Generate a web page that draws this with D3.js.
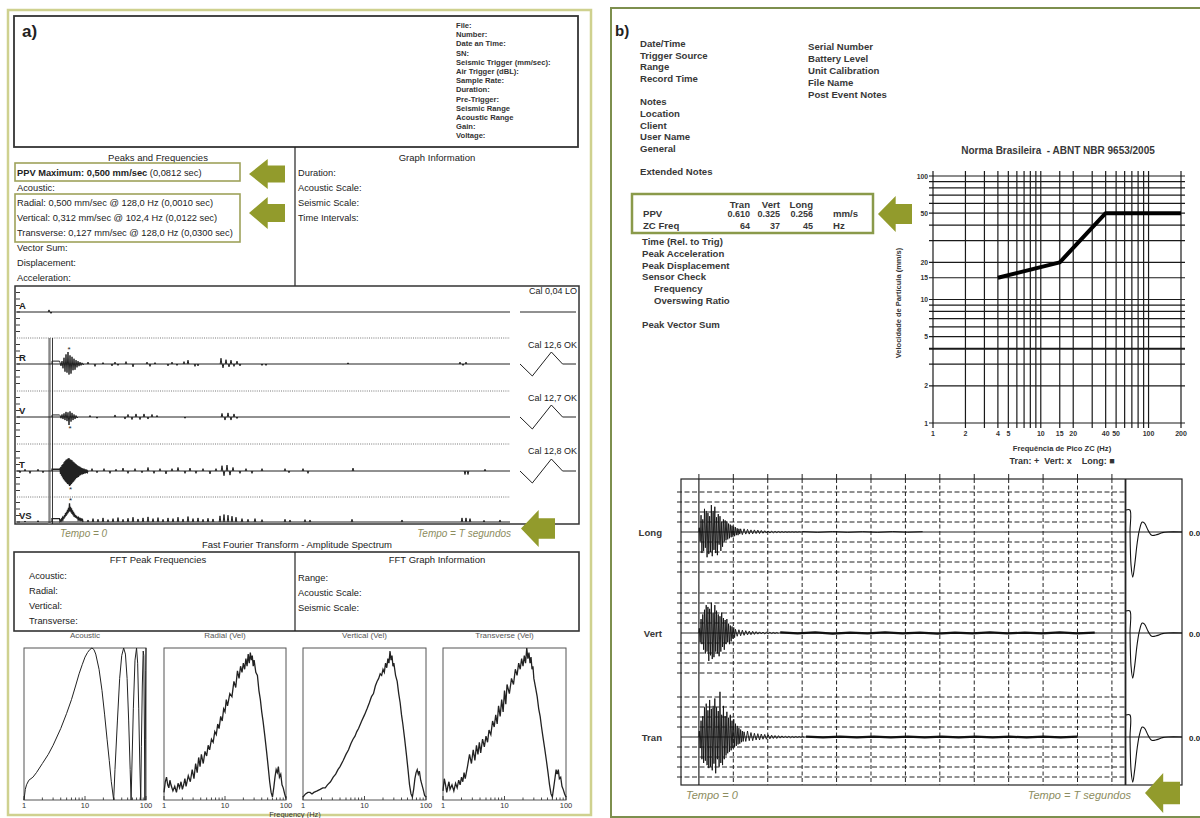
<!DOCTYPE html>
<html><head><meta charset="utf-8">
<script src="https://cdn.jsdelivr.net/npm/d3@7"></script>
<style>
body{margin:0;background:#fff;}
svg{display:block;font-family:"Liberation Sans",Arial,sans-serif;}
text{white-space:pre;}
</style></head><body>
<svg id="c" width="1200" height="818"></svg>
<script>
// ================= report (a): event report =================
const headerFields = ["File:","Number:","Date an Time:","SN:","Seismic Trigger (mm/sec):","Air Trigger (dBL):","Sample Rate:","Duration:","Pre-Trigger:","Seismic Range","Acoustic Range","Gain:","Voltage:"];
const ppvMax = 0.500, ppvMaxTime = 0.0812;
const peakChannels = ["Radial","Vertical","Transverse"];
const peakVel = [0.500, 0.312, 0.127];
const peakFreq = [128.0, 102.4, 128.0];
const peakTime = [0.0010, 0.0122, 0.0300];
const graphInfoLabels = ["Duration:","Acoustic Scale:","Seismic Scale:","Time Intervals:"];
const lowerPeakLabels = ["Vector Sum:","Displacement:","Acceleration:"];
const channelsA = ["A","R","V","T","VS"];
const calLabels = ["Cal 0,04 LO","Cal 12,6 OK","Cal 12,7 OK","Cal 12,8 OK"];

// hold level right after trigger (mm/sec) for R, V, T, VS
const stepHold = [0.12, 0.08, 0.015, 0.10];
// burst samples (mm/sec), starting at t = 0.10 s
const rBurst = [0.06,-0.08,0.12,-0.18,0.26,-0.32,0.40,-0.36,0.50,-0.44,0.36,-0.40,0.30,-0.26,0.22,-0.24,0.16,-0.14,0.12,-0.09,0.08,-0.06,0.05,-0.03];
const vBurst = [0.06,-0.05,0.10,-0.08,0.14,-0.12,0.20,-0.16,0.18,-0.312,0.22,-0.18,0.16,-0.12,0.10,-0.08,0.06,-0.04];
const tBurst = [0.02,-0.025,0.035,-0.04,0.05,-0.055,0.06,-0.07,0.075,-0.08,0.085,-0.09,0.095,-0.10,0.10,-0.11,0.105,-0.115,0.11,-0.127,0.10,-0.12,0.095,-0.11,0.09,-0.10,0.08,-0.09,0.075,-0.08,0.065,-0.07,0.06,-0.06,0.05,-0.055,0.045,-0.05,0.04,-0.04,0.035,-0.035,0.03,-0.03,0.025,-0.03,0.02,-0.025,0.02,-0.02,0.015,-0.02,0.015,-0.015,0.01,-0.01];
const vsBurst = [0.02,0.05,0.03,0.08,0.05,0.12,0.08,0.16,0.10,0.20,0.14,0.26,0.18,0.30,0.22,0.36,0.26,0.42,0.30,0.55,0.32,0.45,0.28,0.40,0.24,0.34,0.20,0.30,0.16,0.25,0.14,0.20,0.12,0.18,0.10,0.15,0.08,0.12,0.07,0.10,0.06,0.09,0.05,0.08,0.05,0.07];
// isolated excursions [time s, mm/sec]
const aSpikes = [[-0.01,0.003],[0.01,-0.002]];
const rSpikes = [[0.38,0.08],[0.45,-0.10],[0.53,0.06],[0.62,-0.08],[0.65,0.08],[0.68,-0.06],[0.76,0.10],[0.83,-0.12],[0.97,0.08],[1.00,-0.10],[1.05,0.06],[1.18,-0.08],[1.22,0.08],[1.27,-0.06],[1.34,0.10],[1.38,0.16],[1.45,-0.10],[1.48,-0.08],[1.71,0.24],[1.73,-0.16],[1.76,0.18],[1.79,-0.12],[1.81,0.16],[1.84,-0.10],[1.87,0.12],[1.90,-0.08],[2.12,-0.06],[2.16,-0.06],[2.98,0.05],[4.10,0.08],[4.13,-0.06],[4.16,0.08]];
const vSpikes = [[0.40,0.06],[0.47,-0.05],[0.65,0.08],[0.75,-0.08],[0.78,0.10],[0.82,-0.10],[0.86,0.12],[0.90,-0.10],[0.94,0.12],[0.98,-0.08],[1.02,0.10],[1.07,0.06],[1.35,-0.05],[1.72,0.14],[1.75,-0.12],[1.78,0.16],[1.81,-0.12],[1.84,0.12],[1.87,-0.06]];
const tSpikes = [[-0.30,-0.015],[-0.25,0.015],[-0.20,-0.02],[-0.12,0.015],[-0.07,-0.015],[0.42,0.02],[0.47,-0.015],[0.54,0.02],[0.60,-0.02],[0.66,0.015],[0.73,0.025],[0.78,-0.02],[0.85,0.02],[0.92,-0.015],[0.98,0.03],[1.04,-0.02],[1.10,0.02],[1.16,-0.025],[1.22,0.02],[1.28,0.03],[1.35,-0.02],[1.40,0.025],[1.46,-0.02],[1.53,0.02],[1.60,-0.025],[1.66,0.02],[1.72,0.045],[1.74,-0.04],[1.77,0.05],[1.80,-0.035],[1.83,0.03],[1.90,-0.02],[1.96,0.02],[2.02,-0.02],[2.12,0.02],[2.35,0.02],[2.39,-0.015],[2.53,0.02],[2.58,-0.02],[3.03,0.025],[4.15,-0.03],[4.18,-0.03],[4.35,0.015]];
const vsSpikes = [[-0.25,0.03],[-0.12,0.04],[0.38,0.06],[0.43,0.10],[0.48,0.08],[0.53,0.12],[0.58,0.07],[0.63,0.10],[0.68,0.13],[0.73,0.08],[0.78,0.11],[0.83,0.14],[0.88,0.09],[0.93,0.12],[0.98,0.15],[1.03,0.10],[1.08,0.13],[1.13,0.08],[1.18,0.12],[1.23,0.10],[1.28,0.14],[1.33,0.09],[1.38,0.16],[1.43,0.10],[1.48,0.12],[1.53,0.08],[1.58,0.11],[1.63,0.09],[1.70,0.18],[1.74,0.22],[1.78,0.20],[1.82,0.17],[1.86,0.14],[1.92,0.10],[1.98,0.08],[2.05,0.10],[2.12,0.07],[2.35,0.08],[2.40,0.06],[2.55,0.07],[2.60,0.06],[3.02,0.08],[3.52,0.06],[4.12,0.12],[4.16,0.12],[4.20,0.10],[4.34,0.05],[4.50,0.06]];
// calibration pulse shape (normalised)
const calShape = [[0,0],[0.22,-1],[0.56,1],[0.76,0],[1,0]];

// FFT amplitude spectra [Hz, relative amplitude]
const fftTicks = [1, 10, 100];
const fftTitles = ["Acoustic","Radial (Vel)","Vertical (Vel)","Transverse (Vel)"];
const acousticFFT = [[1,0],[1.05,0.07],[1.1,0.1],[1.2,0.13],[1.4,0.15],[1.6,0.18],[2,0.24],[2.5,0.3],[3,0.36],[4,0.47],[5,0.57],[6,0.66],[7,0.75],[8,0.83],[9,0.89],[10,0.94],[11,0.97],[12,0.99],[13,1.0],[14,0.99],[15,0.96],[17,0.86],[19,0.72],[21,0.56],[23,0.4],[25,0.26],[27,0.12],[29.5,0],[31,0.2],[34,0.52],[37,0.8],[40,0.95],[43,1.0],[46,0.96],[49,0.8],[52,0.52],[55,0.2],[57,0],[59,0.25],[62,0.6],[66,0.92],[70,1.0],[73,0.9],[76,0.6],[79,0.25],[82,0],[84,0.35],[87,0.75],[90,0.98],[92,0.95],[94,0.5],[96,0],[97.5,0.4],[99,0.85],[100,1.0]];
const radialFFT = [[1,0.05],[1.05,0.12],[1.1,0.15],[1.15,0.1],[1.2,0.08],[1.25,0.13],[1.3,0.1],[1.4,0.06],[1.5,0.09],[1.6,0.05],[1.7,0.11],[1.8,0.08],[1.9,0.12],[2,0.07],[2.1,0.1],[2.2,0.14],[2.3,0.09],[2.5,0.16],[2.7,0.12],[2.9,0.2],[3.1,0.14],[3.3,0.24],[3.5,0.18],[3.7,0.28],[3.9,0.22],[4.1,0.3],[4.4,0.24],[4.7,0.32],[5,0.29],[5.3,0.36],[5.6,0.33],[6,0.4],[6.4,0.38],[6.8,0.45],[7.2,0.43],[7.6,0.5],[8,0.47],[8.5,0.55],[9,0.52],[9.5,0.6],[10,0.58],[10.5,0.66],[11,0.62],[12,0.7],[13,0.68],[14,0.78],[15,0.74],[16,0.85],[17,0.8],[18,0.88],[19,0.84],[20,0.9],[21,0.86],[22,0.93],[23,0.88],[24,0.96],[25,0.9],[26,0.97],[27,0.92],[28,0.95],[29,0.88],[30,0.92],[32,0.84],[34,0.82],[36,0.72],[38,0.66],[40,0.58],[42,0.52],[45,0.42],[48,0.32],[51,0.22],[54,0.12],[57,0.05],[60,0.02],[63,0.08],[66,0.15],[69,0.2],[72,0.18],[75,0.22],[78,0.15],[82,0.17],[86,0.1],[90,0.08],[95,0.04],[100,0.01]];
const verticalFFT = [[1,0.02],[1.1,0.04],[1.2,0.05],[1.3,0.05],[1.4,0.04],[1.5,0.05],[1.7,0.06],[1.9,0.07],[2.1,0.08],[2.3,0.08],[2.5,0.1],[2.8,0.12],[3.1,0.15],[3.4,0.17],[3.7,0.2],[4,0.22],[4.5,0.26],[5,0.3],[5.5,0.33],[6,0.37],[6.5,0.4],[7,0.42],[7.5,0.45],[8,0.47],[9,0.52],[10,0.56],[11,0.6],[12,0.64],[13,0.68],[14,0.7],[15,0.75],[16,0.78],[17,0.8],[18,0.83],[19,0.82],[20,0.86],[21,0.84],[22,0.9],[23,0.87],[24,0.93],[25,0.9],[26,0.98],[27,0.92],[28,0.95],[29,0.88],[30,0.9],[32,0.82],[34,0.78],[36,0.7],[38,0.64],[40,0.56],[42,0.5],[45,0.4],[48,0.3],[51,0.2],[54,0.1],[57,0.04],[60,0.02],[63,0.07],[66,0.14],[69,0.18],[72,0.2],[75,0.17],[78,0.19],[82,0.13],[86,0.1],[90,0.07],[95,0.03],[100,0.02]];
const transverseFFT = [[1,0.06],[1.05,0.14],[1.1,0.1],[1.15,0.05],[1.2,0.09],[1.25,0.12],[1.3,0.07],[1.4,0.1],[1.5,0.06],[1.6,0.11],[1.7,0.08],[1.8,0.13],[1.9,0.1],[2,0.15],[2.1,0.12],[2.2,0.18],[2.3,0.14],[2.5,0.22],[2.7,0.3],[2.9,0.24],[3.1,0.33],[3.3,0.26],[3.5,0.36],[3.7,0.3],[3.9,0.38],[4.1,0.31],[4.4,0.4],[4.7,0.35],[5,0.42],[5.3,0.38],[5.6,0.46],[6,0.43],[6.4,0.52],[6.8,0.48],[7.2,0.56],[7.6,0.5],[8,0.62],[8.5,0.55],[9,0.66],[9.5,0.58],[10,0.72],[10.5,0.63],[11,0.76],[12,0.7],[13,0.8],[14,0.76],[15,0.86],[16,0.82],[17,0.9],[18,0.86],[19,0.93],[20,0.88],[21,0.95],[22,0.9],[23,1.0],[24,0.93],[25,0.97],[26,0.9],[27,0.94],[28,0.86],[29,0.88],[30,0.8],[32,0.74],[34,0.68],[36,0.6],[38,0.55],[40,0.48],[42,0.42],[45,0.34],[48,0.26],[51,0.18],[54,0.1],[57,0.04],[60,0.02],[63,0.08],[66,0.14],[69,0.2],[72,0.17],[75,0.2],[78,0.14],[82,0.15],[86,0.09],[90,0.07],[95,0.04],[100,0.02]];
const fftPeakLabels = ["Acoustic:","Radial:","Vertical:","Transverse:"];
const fftInfoLabels = ["Range:","Acoustic Scale:","Seismic Scale:"];

// ================= report (b): event report with ABNT limit =================
const infoLeft = [["Date/Time","Trigger Source","Range","Record Time"],["Notes","Location","Client","User Name","General"],["Extended Notes"]];
const infoRight = ["Serial Number","Battery Level","Unit Calibration","File Name","Post Event Notes"];
const channelsB = ["Tran","Vert","Long"];
const ppvB = [0.610, 0.325, 0.256];
const zcFreqB = [64, 37, 45];
const infoBelow = ["Time (Rel. to Trig)","Peak Acceleration","Peak Displacement","Sensor Check","Frequency","Overswing Ratio","Peak Vector Sum"];
// ABNT NBR 9653/2005 limit curve
const abntFreq = [4, 15, 40, 200];
const abntVel = [15, 20, 50, 50];
const abntXTicks = [1,2,4,5,10,15,20,40,50,100,200];
const abntYTicks = [1,2,5,10,15,20,50,100];
const abntXGrid = [1,2,3,4,5,6,7,8,9,10,15,20,30,40,50,60,70,80,90,100,200];
const abntYGrid = [1,2,3,4,5,6,7,8,9,10,15,20,30,40,50,60,70,80,90,100];
// waveforms (mm/s), burst sampled every 0.025 s from trigger, tail every 0.05 s, floor every 0.5 s
const longBurst = [0.04,-0.09,0.16,-0.20,0.12,-0.18,0.22,-0.15,0.20,-0.24,0.18,-0.21,0.15,-0.19,0.256,-0.23,0.20,-0.17,0.24,-0.20,0.14,-0.22,0.17,-0.12,0.15,-0.18,0.10,-0.14,0.12,-0.09,0.11,-0.08,0.10,-0.07,0.08,-0.06,0.07,-0.05,0.06,-0.045,0.05,-0.04,0.045,-0.03,0.035,-0.03,0.03,-0.02];
const vertBurst = [0.05,-0.10,0.15,-0.12,0.20,-0.18,0.25,-0.22,0.30,-0.20,0.28,-0.30,0.26,-0.24,0.325,-0.28,0.22,-0.26,0.30,-0.20,0.24,-0.22,0.20,-0.25,0.18,-0.20,0.22,-0.15,0.16,-0.18,0.14,-0.12,0.15,-0.10,0.10,-0.12,0.08,-0.09,0.07,-0.06,0.06,-0.05];
const tranBurst = [0.08,-0.15,0.22,-0.30,0.28,-0.35,0.40,-0.32,0.45,-0.38,0.36,-0.42,0.50,-0.40,0.38,-0.45,0.42,-0.36,0.52,-0.49,0.40,-0.30,0.35,-0.40,0.61,-0.35,0.30,-0.38,0.42,-0.30,0.28,-0.25,0.34,-0.22,0.26,-0.20,0.30,-0.18,0.22,-0.15,0.24,-0.14,0.18,-0.12,0.15,-0.10,0.12,-0.09,0.10,-0.07,0.08,-0.06];
const longTail = [0.03,-0.025,0.03,-0.02,0.025,-0.02,0.02,-0.018,0.02,-0.015,0.018,-0.015,0.015,-0.012,0.012,-0.01,0.01,-0.01,0.008,-0.008,0.006,-0.006,0.005,-0.005,0.004,-0.004,0.003,-0.003,0.002,-0.002,0.002,-0.002,0.002,-0.002,0.002,-0.001];
const vertTail = [0.04,-0.035,0.035,-0.03,0.03,-0.025,0.025,-0.02,0.02,-0.018,0.018,-0.015,0.015,-0.012,0.012,-0.01,0.01,-0.01,0.008,-0.008,0.007,-0.006,0.006,-0.005,0.005,-0.005];
const tranTail = [0.07,-0.06,0.08,-0.05,0.06,-0.05,0.05,-0.04,0.045,-0.04,0.04,-0.03,0.035,-0.03,0.03,-0.025,0.025,-0.02,0.02,-0.02,0.018,-0.015,0.015,-0.012,0.012,-0.01,0.01,-0.01,0.008,-0.008,0.007,-0.006,0.006,-0.005,0.005,-0.005];
const longFloor = [0.004,-0.003,0.004,-0.003,0.003,-0.003,0.004,-0.002,0.003];
const vertFloor = [0.006,-0.005,0.006,-0.006,0.005,-0.005,0.006,-0.005,0.005,-0.006,0.005,-0.005,0.006,-0.005,0.005,-0.005,0.006,-0.005,0.004];
const tranFloor = [0.006,-0.006,0.005,-0.006,0.006,-0.005,0.005,-0.006,0.005,-0.005,0.006,-0.005,0.005,-0.006,0.005,-0.005,0.004];
// sensor check (overswing) pulse, normalised
const pulseShape = [[0,1],[0.07,1],[0.072,0],[0.09,-1.5],[0.12,-2.05],[0.15,-1.6],[0.2,-0.5],[0.24,0.1],[0.29,0.45],[0.33,0.4],[0.4,0.05],[0.46,-0.15],[0.55,-0.12],[0.65,-0.03],[0.75,0],[1,0]];

// ================= drawing =================
const svg = d3.select("#c");
const ink = "#222", olive = "#929b2c";
const fmtC = (v, d) => v.toFixed(d).replace(".", ",");

function txt(g, x, y, s, o = {}) {
  return g.append("text").attr("x", x).attr("y", y).text(s)
    .attr("font-size", o.size || 9)
    .attr("font-weight", o.bold ? "bold" : null)
    .attr("font-style", o.italic ? "italic" : null)
    .attr("text-anchor", o.anchor || "start")
    .attr("fill", o.fill || ink);
}
function hline(g, x1, x2, y, o = {}) {
  return g.append("line").attr("x1", x1).attr("x2", x2).attr("y1", y).attr("y2", y)
    .attr("stroke", o.stroke || ink).attr("stroke-width", o.w || 1)
    .attr("stroke-dasharray", o.dash || null);
}
function vline(g, x, y1, y2, o = {}) {
  return g.append("line").attr("x1", x).attr("x2", x).attr("y1", y1).attr("y2", y2)
    .attr("stroke", o.stroke || ink).attr("stroke-width", o.w || 1)
    .attr("stroke-dasharray", o.dash || null);
}
function box(g, x, y, w, h, stroke, sw) {
  return g.append("rect").attr("x", x).attr("y", y).attr("width", w).attr("height", h)
    .attr("fill", "none").attr("stroke", stroke).attr("stroke-width", sw);
}
// left-pointing block arrow
function arrow(g, x, y, w, h) {
  const hx = x + w * 0.52;
  const pts = [[x, y + h / 2], [hx, y], [hx, y + h * 0.22], [x + w, y + h * 0.22],
               [x + w, y + h * 0.78], [hx, y + h * 0.78], [hx, y + h]];
  g.append("polygon").attr("points", pts.map(p => p.join(",")).join(" ")).attr("fill", olive);
}

// ---------- panel (a) ----------
const A = svg.append("g");
box(A, 8, 10, 583, 805, "#cfd18f", 2.5);
box(A, 14, 16, 564, 131, "#333", 1.8);
txt(A, 22, 37, "a)", {size: 17, bold: true});
headerFields.forEach((f, i) => txt(A, 456, 28 + i * 9.2, f, {size: 7.6, bold: true, fill: "#333"}));

vline(A, 295, 147, 286, {w: 1.2});
txt(A, 158, 161, "Peaks and Frequencies", {size: 9.5, anchor: "middle"});
txt(A, 437, 161, "Graph Information", {size: 9.5, anchor: "middle"});
box(A, 15, 163, 225, 18, "#9ea25a", 1.6);
const ppvT = txt(A, 17, 175.5, "", {size: 9.3});
ppvT.append("tspan").attr("font-weight", "bold").text(`PPV Maximum: ${fmtC(ppvMax, 3)} mm/sec`);
ppvT.append("tspan").text(` (${fmtC(ppvMaxTime, 4)} sec)`);
txt(A, 17, 191, "Acoustic:", {size: 9.3});
box(A, 15, 194, 225, 48, "#9ea25a", 1.6);
peakChannels.forEach((c, i) => txt(A, 17, 206 + i * 15,
  `${c}: ${fmtC(peakVel[i], 3)} mm/sec @ ${fmtC(peakFreq[i], 1)} Hz (${fmtC(peakTime[i], 4)} sec)`, {size: 9.3}));
lowerPeakLabels.forEach((l, i) => txt(A, 17, 251 + i * 15, l, {size: 9.3}));
graphInfoLabels.forEach((l, i) => txt(A, 298, 175.5 + i * 15, l, {size: 9.3}));
arrow(A, 249, 159, 36, 30);
arrow(A, 249, 197, 36, 32);

// waveform strip
box(A, 15, 286, 564, 238, "#333", 1.5);
const xA = d3.scaleLinear([-0.33, 4.6], [17, 510]);
const baseA = [312, 364, 417, 471, 522];
const gainA = [700, 24, 25.6, 118, 34];
const yA = baseA.map((b, i) => d3.scaleLinear([0, 1], [b, b - gainA[i]]));
const sepA = [338, 391, 444, 497];
sepA.forEach(y => hline(A, 17, 510, y, {stroke: "#777", dash: "1,1.2"}));
baseA.forEach((b, i) => {
  [-19.5, -13, -6.5, 6.5, 13, 19.5].forEach(o => {
    if (b + o > 287 && b + o < 523) hline(A, 16, 20, b + o, {w: 0.9});
  });
  hline(A, 16, 20, b, {w: 0.9});
  txt(A, 19, b - 3, channelsA[i], {size: 9.5, bold: true});
});
// trigger marker
vline(A, 49.5, 338, 524, {stroke: "#888", w: 2.4});
vline(A, 52.5, 338, 524, {stroke: "#222", w: 0.9});

const lineA = (i) => d3.line().x(d => xA(d[0])).y(d => yA[i](d[1]));
const bursts = [null, rBurst, vBurst, tBurst, vsBurst];
const burstDt = [0, 0.01, 0.01, 0.005, 0.005];
const spikesA = [aSpikes, rSpikes, vSpikes, tSpikes, vsSpikes];
channelsA.forEach((c, i) => {
  hline(A, 17, 510, baseA[i], {w: 1});
  spikesA[i].forEach(s => {
    A.append("path").attr("d", lineA(i)([[s[0] - 0.008, 0], [s[0], s[1]], [s[0] + 0.008, 0]]))
      .attr("fill", "none").attr("stroke", ink).attr("stroke-width", 1);
  });
  if (!bursts[i]) return;
  const hold = stepHold[i - 1];
  const pts = [[0.02, 0], [0.02, hold], [0.095, hold]];
  bursts[i].forEach((v, k) => pts.push([0.10 + k * burstDt[i], v]));
  pts.push([0.10 + bursts[i].length * burstDt[i], 0]);
  A.append("path").attr("d", lineA(i)(pts)).attr("fill", "none")
    .attr("stroke", ink).attr("stroke-width", i >= 3 ? 1.3 : 1);
  // peak marker
  const k = d3.maxIndex(bursts[i], v => Math.abs(v));
  const v = bursts[i][k];
  txt(A, xA(0.10 + k * burstDt[i]) + 1, yA[i](v) + (v > 0 ? -0.5 : 6.5), "*", {size: 8, anchor: "middle"});
});
// calibration pulses
const xCal = d3.scaleLinear([0, 1], [520, 576]);
hline(A, 520, 576, baseA[0], {w: 1});
[1, 2, 3].forEach(i => {
  A.append("path").attr("d", d3.line().x(d => xCal(d[0])).y(d => baseA[i] - d[1] * 12)(calShape))
    .attr("fill", "none").attr("stroke", ink).attr("stroke-width", 1);
});
calLabels.forEach((l, i) => txt(A, 577, [294, 348, 401, 454][i], l, {size: 9, anchor: "end"}));
txt(A, 60, 537, "Tempo = 0", {size: 10, italic: true, fill: "#8c8c5e"});
txt(A, 511, 537, "Tempo = T segundos", {size: 10, italic: true, fill: "#8c8c5e", anchor: "end"});
arrow(A, 521, 510, 34, 37);
txt(A, 297, 548, "Fast Fourier Transform - Amplitude Spectrum", {size: 9.5, anchor: "middle"});

// FFT info
box(A, 14, 552, 565, 79, "#333", 1.6);
vline(A, 295, 552, 631, {w: 1.2});
txt(A, 158, 563, "FFT Peak Frequencies", {size: 9.5, anchor: "middle"});
txt(A, 437, 563, "FFT Graph Information", {size: 9.5, anchor: "middle"});
fftPeakLabels.forEach((l, i) => txt(A, 29, 579 + i * 15, l, {size: 9.3}));
fftInfoLabels.forEach((l, i) => txt(A, 298, 581 + i * 15, l, {size: 9.3}));

// FFT spectra
const fftBoxes = [[24, 146], [164, 286], [303, 426], [443, 566]];
const fftData = [acousticFFT, radialFFT, verticalFFT, transverseFFT];
const fTop = 648, fBot = 800;
fftBoxes.forEach((bx, i) => {
  const x = d3.scaleLog([1, 100], bx);
  const y = d3.scaleLinear([0, 1], [fBot, fTop]);
  box(A, bx[0], fTop, bx[1] - bx[0], fBot - fTop, "#555", 1);
  txt(A, (bx[0] + bx[1]) / 2, 638, fftTitles[i], {size: 8, anchor: "middle", fill: "#555"});
  x.ticks().forEach(t => vline(A, x(t), fBot, fBot - (fftTicks.includes(t) ? 4 : 2.5), {w: 0.8}));
  fftTicks.forEach(t => txt(A, x(t), 807.5, String(t), {size: 7.5, anchor: "middle", fill: "#333"}));
  A.append("path").attr("d", d3.line().x(d => x(d[0])).y(d => y(d[1]))(fftData[i]))
    .attr("fill", "none").attr("stroke", ink).attr("stroke-width", i === 0 ? 1 : 1.3);
});
txt(A, 295, 817, "Frequency (Hz)", {size: 7.5, anchor: "middle", fill: "#333"});

// ---------- panel (b) ----------
const B = svg.append("g");
box(B, 611, 8, 600, 809, "#7d8f4e", 2);
txt(B, 615, 36, "b)", {size: 15, bold: true});
const bOpt = {size: 9.6, bold: true, fill: "#383838"};
let yy = 47;
infoLeft.forEach(grp => {
  grp.forEach(l => { txt(B, 640, yy, l, bOpt); yy += 11.7; });
  yy += 11.3;
});
infoRight.forEach((l, i) => txt(B, 808, 50 + i * 11.9, l, bOpt));
txt(B, 1058, 154, "Norma Brasileira  - ABNT NBR 9653/2005", {size: 10, bold: true, anchor: "middle", fill: "#383838"});

// PPV table
box(B, 632, 194, 241, 39, "#8a9a4a", 2.5);
const colEnd = [750, 780, 813];
channelsB.forEach((c, i) => {
  txt(B, colEnd[i], 207.5, c, {...bOpt, anchor: "end"});
  txt(B, colEnd[i], 216.5, ppvB[i].toFixed(3), {...bOpt, size: 9, anchor: "end"});
  txt(B, colEnd[i], 228.5, String(zcFreqB[i]), {...bOpt, size: 9, anchor: "end"});
});
txt(B, 643, 216.5, "PPV", bOpt);
txt(B, 643, 228.5, "ZC Freq", bOpt);
txt(B, 833, 216.5, "mm/s", bOpt);
txt(B, 833, 228.5, "Hz", bOpt);
arrow(B, 878, 196, 34, 36);
[245, 257, 268.5, 280, 292, 303.5, 328].forEach((y, i) =>
  txt(B, (i === 4 || i === 5) ? 654 : 642, y, infoBelow[i], bOpt));

// ABNT chart
const xAb = d3.scaleLog([1, 200], [933, 1181]);
const yAb = d3.scaleLog([1, 100], [423, 176]);
abntYGrid.forEach(v => hline(B, 929, 1185, yAb(v), {w: v === 4 ? 2 : 1.2, stroke: "#1a1a1a"}));
abntXGrid.forEach(v => vline(B, xAb(v), 171, 428, {w: 1.2, stroke: "#1a1a1a"}));
abntYTicks.forEach(v => txt(B, 928, yAb(v) + 2.5, String(v), {size: 6.8, bold: true, anchor: "end", fill: "#333"}));
abntXTicks.forEach(v => txt(B, xAb(v), 435.5, String(v), {size: 7, bold: true, anchor: "middle", fill: "#333"}));
B.append("path").attr("d", d3.line().x((d, i) => xAb(abntFreq[i])).y(d => yAb(d))(abntVel))
  .attr("fill", "none").attr("stroke", "#000").attr("stroke-width", 4).attr("stroke-linejoin", "round");
txt(B, 0, 0, "Velocidade de Partícula (mm/s)", {size: 7.5, bold: true, anchor: "middle", fill: "#333"})
  .attr("transform", "translate(901,303) rotate(-90)");
txt(B, 1062, 451, "Frequência de Pico ZC (Hz)", {size: 7.6, bold: true, anchor: "middle", fill: "#333"});
txt(B, 1062, 464, "Tran: +  Vert: x    Long: \u25A0", {size: 9, bold: true, anchor: "middle", fill: "#333"});

// waveform grid
const xB = d3.scaleLinear([-0.52, 12.38], [681, 1125]);
const baseB = [737, 633, 532];   // Tran, Vert, Long
const rangeB = [0.54, 0.43, 0.38];
const yB = baseB.map((b, i) => d3.scaleLinear([-rangeB[i], rangeB[i]], [b + 40, b - 40]));
box(B, 681, 479, 501, 306, "#222", 1.2);
baseB.forEach((b, i) => {
  [-40, -30, -20, -10, 10, 20, 30, 40].forEach(o => hline(B, 677, 1125, b + o, {dash: "5,2.5", w: 1, stroke: "#222"}));
  hline(B, 681, 1182, b, {w: 1.2});
  txt(B, 662, b + 4, channelsB[i], {...bOpt, anchor: "end"});
  txt(B, 1189, b + 3.5, "0.0", {size: 8, bold: true, fill: "#222"});
});
d3.range(1, 13).forEach(t => vline(B, xB(t), 479, 785, {dash: "4,2.5", w: 1}));
d3.range(0, 13).forEach(t => vline(B, xB(t), 474, 479, {w: 1}));
vline(B, xB(0), 479, 785, {w: 1.2});
vline(B, 1125.5, 479, 785, {w: 1.8});

const burstB = [tranBurst, vertBurst, longBurst];
const tailB = [tranTail, vertTail, longTail];
const floorB = [tranFloor, vertFloor, longFloor];
const floorEnd = [11.0, 11.5, 6.5];
burstB.forEach((arr, i) => {
  const line = d3.line().x(d => xB(d[0])).y(d => yB[i](d[1]));
  const pts = [[0, 0]].concat(arr.map((v, k) => [0.0125 + k * 0.025, v]));
  const t1 = 0.0125 + arr.length * 0.025;
  tailB[i].forEach((v, k) => pts.push([t1 + k * 0.05, v]));
  B.append("path").attr("d", line(pts)).attr("fill", "none").attr("stroke", "#111").attr("stroke-width", 0.9);
  const t2 = t1 + tailB[i].length * 0.05;
  const fl = floorB[i].map((v, k) => [t2 + k * ((floorEnd[i] - t2) / (floorB[i].length - 1)), v]);
  B.append("path").attr("d", line(fl)).attr("fill", "none").attr("stroke", "#111").attr("stroke-width", i === 2 ? 1 : 2.2);
});
// sensor check pulses
const xP = d3.scaleLinear([0, 1], [1126, 1182]);
baseB.forEach(b => {
  B.append("path").attr("d", d3.line().curve(d3.curveCatmullRom.alpha(0.5))
      .x(d => xP(d[0])).y(d => b - d[1] * 22)(pulseShape))
    .attr("fill", "none").attr("stroke", "#111").attr("stroke-width", 1.1);
});
txt(B, 686, 799, "Tempo = 0", {size: 11, italic: true, fill: "#8c8c5e"});
txt(B, 1131, 799, "Tempo = T segundos", {size: 11, italic: true, fill: "#8c8c5e", anchor: "end"});
arrow(B, 1145, 773, 35, 40);
</script>
</body></html>
